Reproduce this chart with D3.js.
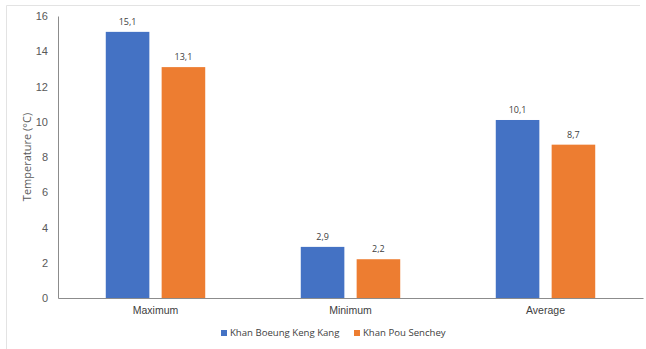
<!DOCTYPE html>
<html>
<head>
<meta charset="utf-8">
<script src="https://cdn.jsdelivr.net/npm/d3@7"></script>
<style>
  html, body { margin: 0; padding: 0; background: #fff; }
  svg { display: block; font-family: "Open Sans", "Noto Sans", sans-serif; }
</style>
</head>
<body>
<svg id="chart" width="646" height="349"></svg>
<script>
// Temperature statistics per district
const categories = ["Maximum", "Minimum", "Average"];
const seriesNames = ["Khan Boeung Keng Kang", "Khan Pou Senchey"];
const boeungKengKang = [15.1, 2.9, 10.1];
const pouSenchey = [13.1, 2.2, 8.7];
const yTicks = [0, 2, 4, 6, 8, 10, 12, 14, 16];
const colors = ["#4472C4", "#ED7D31"];

const series = [boeungKengKang, pouSenchey];

const svg = d3.select("#chart");
const margin = { left: 58, right: 3, top: 16, bottom: 51 };
const W = 646, H = 349;

// faint frame edges (top and left)
svg.append("path")
  .attr("d", "M6.5,349 V5.5 H640")
  .attr("fill", "none").attr("stroke", "#e3e3e3").attr("stroke-width", 1);

const x0 = d3.scaleBand()
  .domain(categories)
  .range([margin.left, W - margin.right])
  .paddingInner(0.49).paddingOuter(0.245);

const x1 = d3.scaleBand()
  .domain(d3.range(series.length))
  .range([0, x0.bandwidth()])
  .paddingInner(0.22);

const y = d3.scaleLinear()
  .domain([0, 16])
  .range([H - margin.bottom, margin.top]);

// y axis labels
const yAxis = d3.axisLeft(y).tickValues(yTicks).tickSize(0).tickPadding(10);
const gy = svg.append("g")
  .attr("transform", `translate(${margin.left},0)`)
  .call(yAxis);
gy.select(".domain").attr("stroke", "#8c8c8c").attr("stroke-width", 1);
gy.selectAll("text").attr("fill", "#595959").attr("font-size", 11);

// y axis title
svg.append("text")
  .attr("transform", `translate(31,${(y(0) + y(16)) / 2}) rotate(-90)`)
  .attr("text-anchor", "middle")
  .attr("fill", "#595959")
  .attr("font-size", 11)
  .text("Temperature (°C)");

// bars
const groups = svg.append("g").selectAll("g")
  .data(categories)
  .join("g")
  .attr("transform", d => `translate(${x0(d)},0)`);

groups.selectAll("rect")
  .data((d, i) => series.map((s, j) => ({ j, v: s[i] })))
  .join("rect")
  .attr("x", d => x1(d.j))
  .attr("y", d => y(d.v))
  .attr("width", x1.bandwidth())
  .attr("height", d => y(0) - y(d.v))
  .attr("fill", d => colors[d.j]);

// value labels
const fmt = v => d3.format(".1f")(v).replace(".", ",");
groups.selectAll("text.val")
  .data((d, i) => series.map((s, j) => ({ j, v: s[i] })))
  .join("text")
  .attr("class", "val")
  .attr("x", d => x1(d.j) + x1.bandwidth() / 2)
  .attr("y", d => y(d.v) - 7)
  .attr("text-anchor", "middle")
  .attr("fill", "#404040")
  .attr("font-size", 9)
  .text(d => fmt(d.v));

// x axis
const xAxis = d3.axisBottom(x0).tickSize(0).tickPadding(9);
const gx = svg.append("g")
  .attr("transform", `translate(0,${y(0)})`)
  .call(xAxis);
gx.select(".domain").attr("stroke", "#8c8c8c").attr("stroke-width", 1.2);
gx.selectAll("text").attr("fill", "#404040").attr("font-size", 10.5);

// legend
const legendItems = [{ x: 221 }, { x: 354 }];
const lg = svg.append("g").selectAll("g")
  .data(seriesNames)
  .join("g")
  .attr("transform", (d, i) => `translate(${legendItems[i].x},333)`);
lg.append("rect")
  .attr("x", 0).attr("y", -3)
  .attr("width", 6).attr("height", 6)
  .attr("fill", (d, i) => colors[i]);
lg.append("text")
  .attr("x", 9).attr("y", 0)
  .attr("dy", "0.35em")
  .attr("fill", "#404040")
  .attr("font-size", 9.6)
  .text(d => d);
</script>
</body>
</html>
